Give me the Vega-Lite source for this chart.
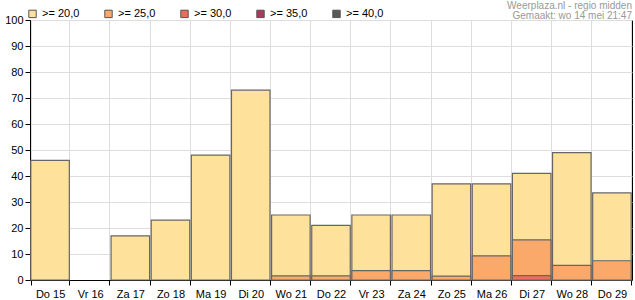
{
  "$schema": "https://vega.github.io/schema/vega-lite/v6.json",
  "width": 602,
  "height": 260,
  "autosize": {"type": "none"},
  "padding": {"left": 30, "top": 20, "right": 3, "bottom": 20},
  "config": {
    "font": "Liberation Sans",
    "view": {"stroke": "#000", "strokeWidth": 1},
    "axis": {"labelFont": "Liberation Sans", "labelFontSize": 11, "labelColor": "#000", "domainColor": "#000", "tickColor": "#000", "gridColor": "#dddddd", "tickSize": 5}
  },
  "title": {
    "text": "Weerplaza.nl - regio midden",
    "subtitle": "Gemaakt: wo 14 mei 21:47",
    "anchor": "end",
    "frame": "group",
    "fontSize": 10,
    "fontWeight": "normal",
    "color": "#999999",
    "subtitleFontSize": 10,
    "subtitleColor": "#999999",
    "subtitlePadding": 0,
    "offset": 1,
    "dy": 14
  },
  "data": {
    "values": [
      {"dag": "Do 15", "klasse": ">= 20,0", "waarde": 46, "rank": 1},
      {"dag": "Za 17", "klasse": ">= 20,0", "waarde": 17, "rank": 1},
      {"dag": "Zo 18", "klasse": ">= 20,0", "waarde": 23, "rank": 1},
      {"dag": "Ma 19", "klasse": ">= 20,0", "waarde": 48, "rank": 1},
      {"dag": "Di 20", "klasse": ">= 20,0", "waarde": 73, "rank": 1},
      {"dag": "Wo 21", "klasse": ">= 20,0", "waarde": 25, "rank": 1},
      {"dag": "Do 22", "klasse": ">= 20,0", "waarde": 21, "rank": 1},
      {"dag": "Vr 23", "klasse": ">= 20,0", "waarde": 25, "rank": 1},
      {"dag": "Za 24", "klasse": ">= 20,0", "waarde": 25, "rank": 1},
      {"dag": "Zo 25", "klasse": ">= 20,0", "waarde": 37, "rank": 1},
      {"dag": "Ma 26", "klasse": ">= 20,0", "waarde": 37, "rank": 1},
      {"dag": "Di 27", "klasse": ">= 20,0", "waarde": 41, "rank": 1},
      {"dag": "Wo 28", "klasse": ">= 20,0", "waarde": 49, "rank": 1},
      {"dag": "Do 29", "klasse": ">= 20,0", "waarde": 33.5, "rank": 1},
      {"dag": "Wo 21", "klasse": ">= 25,0", "waarde": 1.6, "rank": 2},
      {"dag": "Do 22", "klasse": ">= 25,0", "waarde": 1.6, "rank": 2},
      {"dag": "Vr 23", "klasse": ">= 25,0", "waarde": 3.6, "rank": 2},
      {"dag": "Za 24", "klasse": ">= 25,0", "waarde": 3.6, "rank": 2},
      {"dag": "Zo 25", "klasse": ">= 25,0", "waarde": 1.5, "rank": 2},
      {"dag": "Ma 26", "klasse": ">= 25,0", "waarde": 9.3, "rank": 2},
      {"dag": "Di 27", "klasse": ">= 25,0", "waarde": 15.4, "rank": 2},
      {"dag": "Wo 28", "klasse": ">= 25,0", "waarde": 5.6, "rank": 2},
      {"dag": "Do 29", "klasse": ">= 25,0", "waarde": 7.4, "rank": 2},
      {"dag": "Di 27", "klasse": ">= 30,0", "waarde": 1.7, "rank": 3}
    ]
  },
  "mark": {"type": "bar", "stroke": "#666666", "strokeWidth": 1.2},
  "encoding": {
    "x": {
      "field": "dag",
      "type": "nominal",
      "sort": null,
      "title": null,
      "scale": {"domain": ["Do 15", "Vr 16", "Za 17", "Zo 18", "Ma 19", "Di 20", "Wo 21", "Do 22", "Vr 23", "Za 24", "Zo 25", "Ma 26", "Di 27", "Wo 28", "Do 29"], "paddingInner": 0.04, "paddingOuter": 0.02},
      "axis": {"labelAngle": 0, "tickBand": "extent", "grid": true, "labelPadding": 3}
    },
    "y": {
      "field": "waarde",
      "type": "quantitative",
      "stack": null,
      "title": null,
      "scale": {"domain": [0, 100], "nice": false},
      "axis": {"values": [0, 10, 20, 30, 40, 50, 60, 70, 80, 90, 100], "grid": true, "labelPadding": 2}
    },
    "color": {
      "field": "klasse",
      "type": "nominal",
      "scale": {
        "domain": [">= 20,0", ">= 25,0", ">= 30,0", ">= 35,0", ">= 40,0"],
        "range": ["#fee29c", "#fba96a", "#e8705a", "#a83a5e", "#585858"]
      },
      "legend": {
        "title": null,
        "orient": "none",
        "direction": "horizontal",
        "legendX": -3,
        "legendY": -12,
        "symbolType": "square",
        "symbolSize": 55,
        "symbolStrokeColor": "#555555",
        "symbolStrokeWidth": 1,
        "symbolOpacity": 1,
        "labelFontSize": 11,
        "labelColor": "#000",
        "labelOffset": 4,
        "columnPadding": 22
      }
    },
    "order": {"field": "rank", "type": "quantitative"}
  }
}
